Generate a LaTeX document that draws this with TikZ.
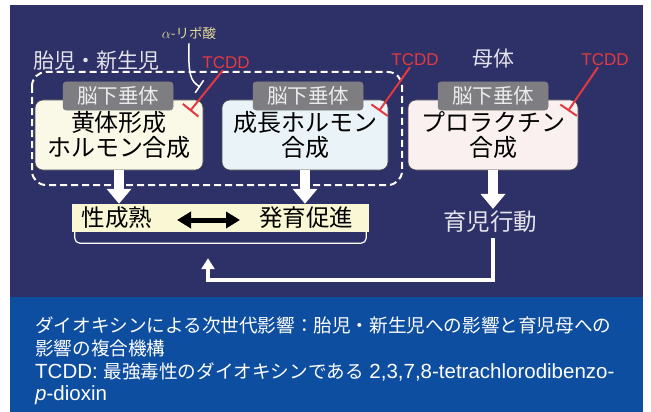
\documentclass[tikz,border=0pt]{standalone}
\usepackage{fontspec}
\setmainfont{Liberation Sans}
\newfontfamily\jp{Noto Sans CJK JP}
\usetikzlibrary{arrows.meta}
\definecolor{panel}{HTML}{2E3068}
\definecolor{capblue}{HTML}{0E4EA0}
\definecolor{tcddred}{HTML}{E23A40}
\definecolor{lgray}{HTML}{7E7E82}
\definecolor{txtw}{HTML}{E4E4EC}
\definecolor{lipo}{HTML}{E2DA96}
\begin{document}
\begin{tikzpicture}[x=1pt,y=-1pt,
  hbox/.style={draw=black!70, line width=0.6pt, rounded corners=8pt, minimum width=#1, minimum height=70pt, inner sep=0pt, align=center, font=\jp\fontsize{24}{25.5}\selectfont, text=black},
  lab/.style={fill=lgray, draw=black!50, line width=0.5pt, rounded corners=3pt, minimum width=110pt, minimum height=28pt, inner sep=0pt, font=\jp\fontsize{20.5}{21}\selectfont, text=white!92!black},
  tcdd/.style={text=tcddred, font=\fontsize{17}{17}\selectfont, inner sep=0pt},
  inhib/.style={draw=tcddred, line width=2pt, -{Bar[width=20pt,line width=2pt]}},
  wtext/.style={text=txtw, font=\jp\fontsize{21}{22}\selectfont, inner sep=0pt},
  bandtext/.style={text=black, inner sep=0pt, font=\jp\fontsize{23.5}{24}\selectfont},
  blockarrow/.style={draw=white, line width=10pt, -{Triangle[width=24pt,length=15pt]}},
  captext/.style={anchor=west, text=white, inner sep=0pt, font=\fontsize{20.5}{22}\selectfont},
  capjp/.style={font=\jp\fontsize{18.6}{22}\selectfont}
]
\useasboundingbox (0,0) rectangle (651,412);
\fill[white] (0,0) rectangle (651,412);
\fill[panel] (10,5) rectangle (643,297);
\fill[capblue] (10,297) rectangle (643,412);

% dashed group
\draw[white, line width=2pt, dash pattern=on 7pt off 4pt, rounded corners=14pt] (32,72) rectangle (402,185);

% boxes
\node[hbox=168pt, fill={rgb,255:red,250;green,248;blue,230}] (b1) at (119,135) {黄体形成\\ホルモン合成};
\node[hbox=166pt, fill={rgb,255:red,234;green,243;blue,248}] (b2) at (305,135) {成長ホルモン\\合成};
\node[hbox=170pt, fill={rgb,255:red,251;green,240;blue,240}] (b3) at (493,135) {プロラクチン\\合成};

\node[lab] (l1) at (118,96) {脳下垂体};
\node[lab] (l2) at (308,96) {脳下垂体};
\node[lab] (l3) at (493,96) {脳下垂体};

% headings
\node[wtext] (fetus) at (97,61) {胎児・新生児};
\node[wtext] (mother) at (493,59) {母体};
\node[text=lipo, inner sep=0pt, font=\fontsize{13.5}{14}\selectfont] (ala) at (189,33) {$\alpha$\jp-リポ酸};

% TCDD
\node[tcdd] (t1) at (226,63) {TCDD};
\node[tcdd] (t2) at (415,60) {TCDD};
\node[tcdd] (t3) at (605,60) {TCDD};
\coordinate (e1) at (190,111);
\coordinate (e2) at (379,111);
\coordinate (e3) at (568,111);
\draw[inhib] (t1.south) ++(-3,1) -- (e1);
\draw[inhib] (t2.south) ++(-5,1) -- (e2);
\draw[inhib] (t3.south) ++(-7,1) -- (e3);

% alpha-lipoic acid inhibition
\coordinate (ae) at (200,87);
\draw[white, line width=1.5pt, -{Bar[width=15pt,line width=1.5pt]}] (ala.south) ++(0,4) .. controls (188,76) and (191,81) .. (ae);

% band
\node[fill={rgb,255:red,250;green,247;blue,212}, minimum width=297pt, minimum height=28pt, inner sep=0pt] (band) at (220.5,218) {};
\node[bandtext] (sex) at (117,218) {性成熟};
\node[bandtext] (grow) at (306,218) {発育促進};
\coordinate (d1) at (177,220);
\coordinate (d2) at (240,220);
\draw[black, line width=5pt, {Triangle[width=16pt,length=14pt]}-{Triangle[width=16pt,length=14pt]}] (d1) -- (d2);

% bracket
\draw[white, line width=1.2pt, rounded corners=5pt] ([xshift=3pt]band.south west) -- ++(0,11) -| ([xshift=-3pt]band.south east);

% parenting behaviour
\node[wtext, font=\jp\fontsize{23.5}{24}\selectfont] (care) at (490,222) {育児行動};

% block arrows
\draw[blockarrow] (b1.south) -- (b1.south |- band.north);
\draw[blockarrow] (b2.south) -- (b2.south |- band.north);
\draw[blockarrow] (b3.south) -- ([yshift=2pt]b3.south |- care.north);

% feedback
\coordinate (fc) at (493,280);
\coordinate (fb) at (208,280);
\draw[white, line width=4pt, -{Triangle[width=13pt,length=11pt]}] ([yshift=-5pt]care.south -| fc) -- (fc) -- (fb) -- ([yshift=-26pt]fb |- band.south);

% caption
\node[captext] (c1) at (35,325) {\jp\fontsize{18.6}{22}\selectfont ダイオキシンによる次世代影響：胎児・新生児への影響と育児母への};
\node[captext] (c2) at (35,348) {\jp\fontsize{18.6}{22}\selectfont 影響の複合機構};
\node[captext] (c3) at (35,372) {TCDD: {\jp\fontsize{18.6}{22}\selectfont 最強毒性のダイオキシンである} 2,3,7,8-tetrachlorodibenzo-};
\node[captext] (c4) at (35,395) {\textit{p}-dioxin};
\end{tikzpicture}
\end{document}
